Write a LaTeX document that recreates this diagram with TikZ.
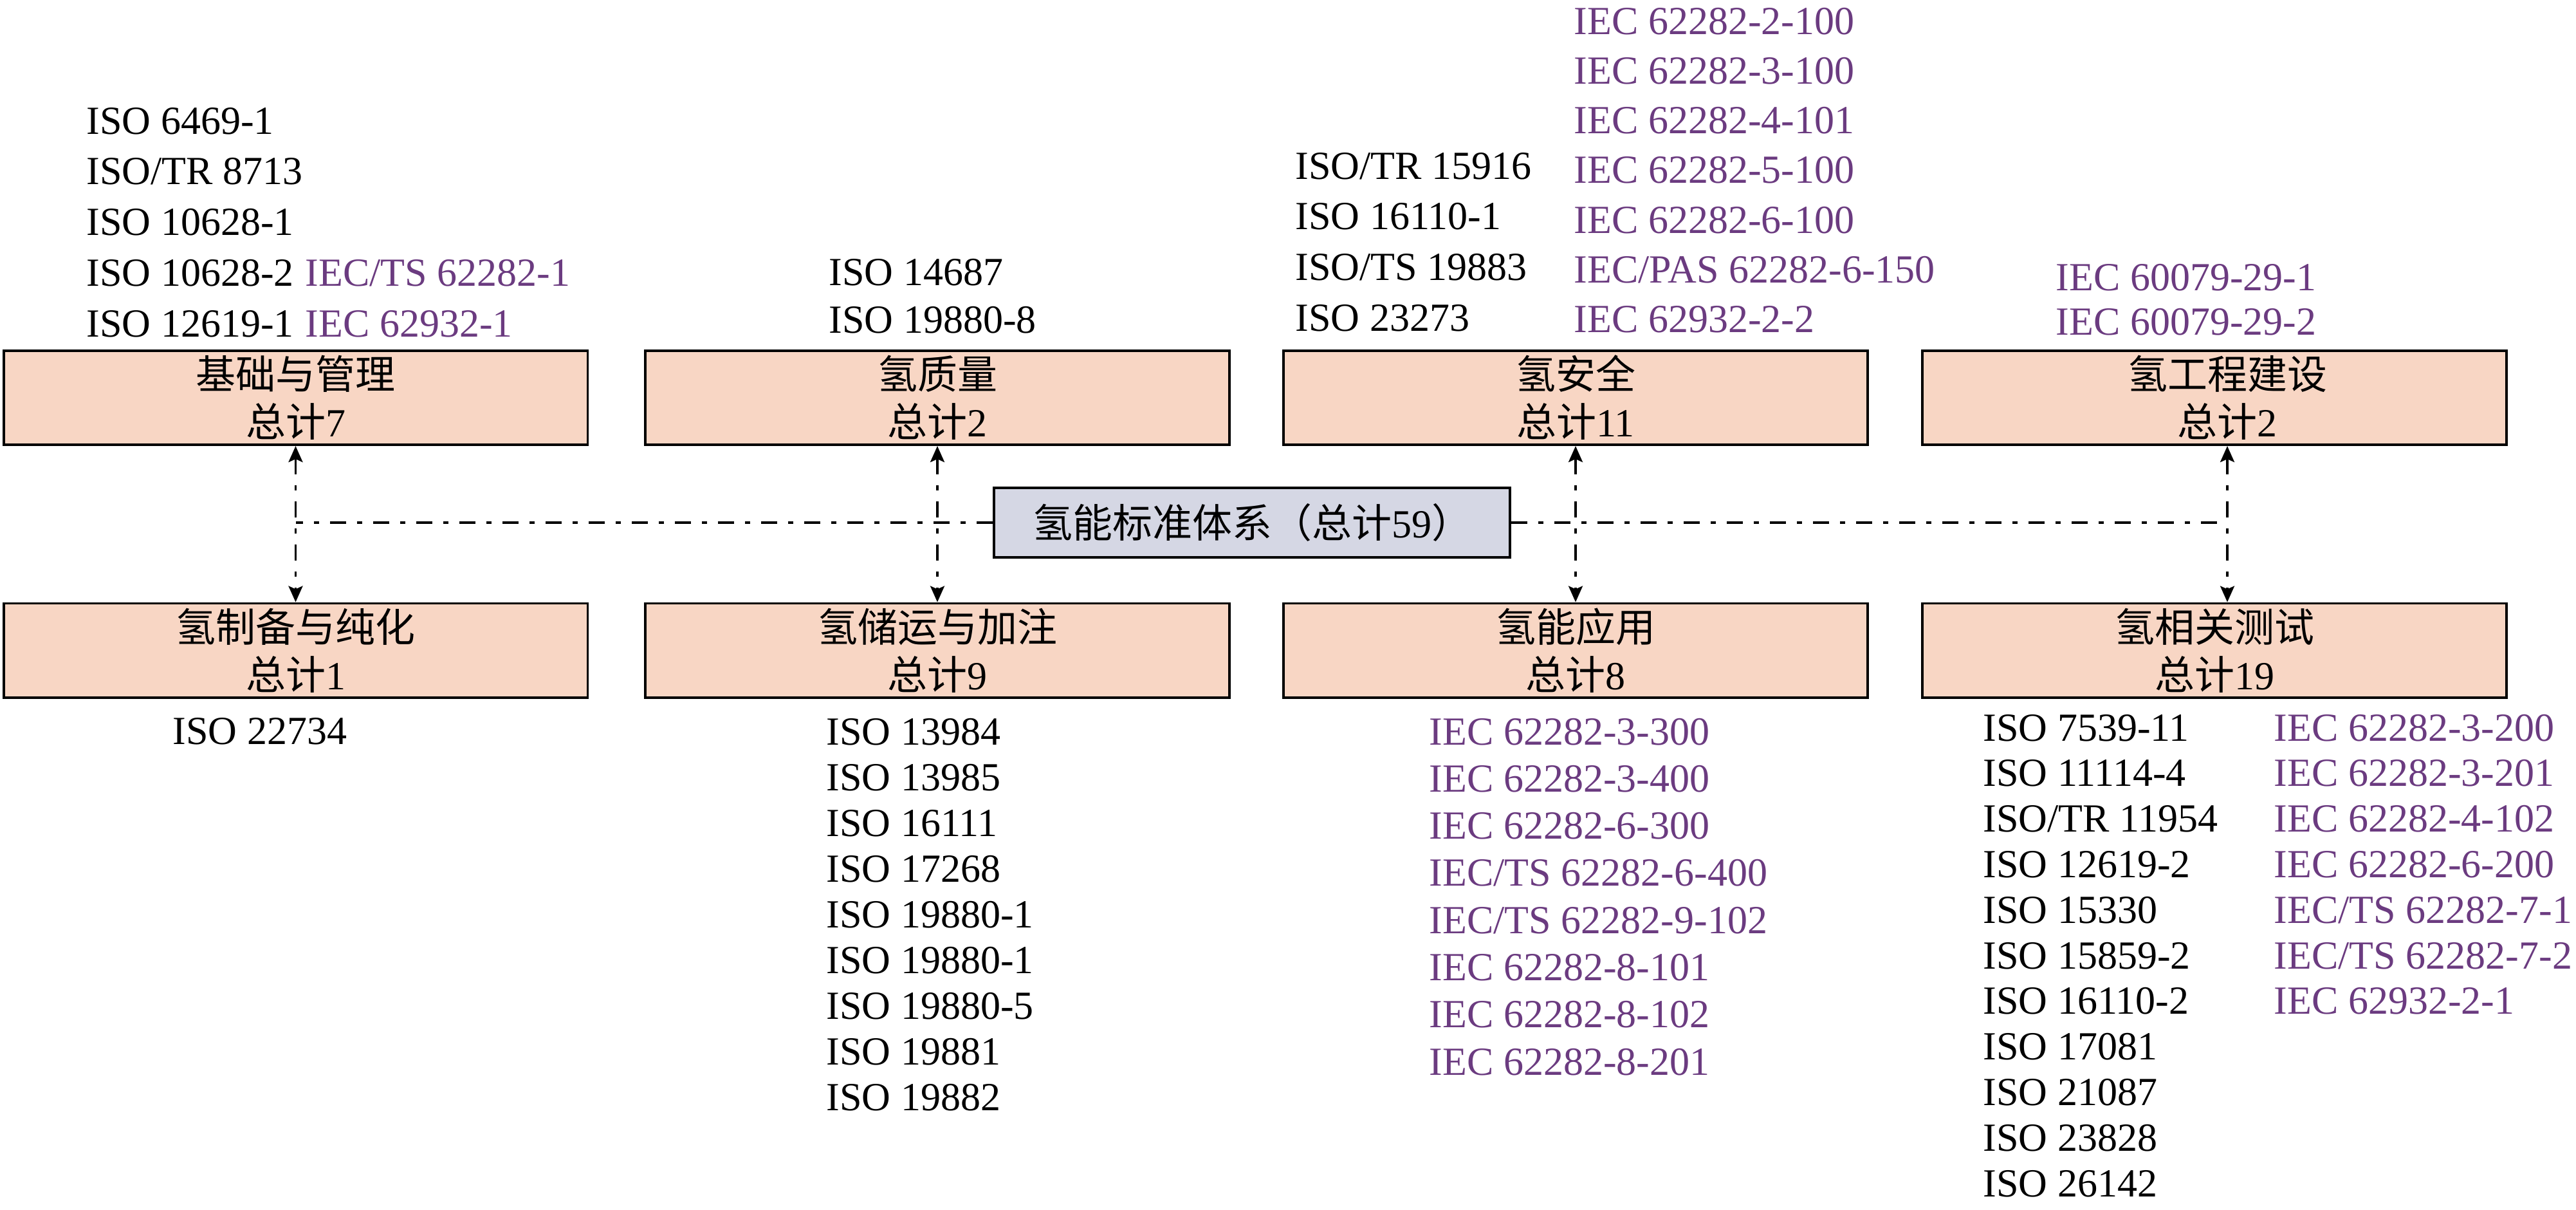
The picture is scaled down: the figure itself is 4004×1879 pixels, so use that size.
\documentclass[tikz,border=0pt]{standalone}
\usepackage{fontspec}
\setmainfont{Liberation Serif}
\newfontfamily\cjkf{Noto Sans CJK SC}
\newcommand\zh[1]{{\cjkf #1}}
\usetikzlibrary{arrows.meta}
\definecolor{boxfill}{RGB}{248,214,196}
\definecolor{hubfill}{RGB}{213,215,228}
\definecolor{iecpurple}{RGB}{107,59,128}
\begin{document}
\begin{tikzpicture}[x=0.25pt,y=-0.25pt,
  catbox/.style={draw=black, line width=0.9pt, fill=boxfill, minimum width=226.9pt,
    minimum height=36.6pt, inner sep=0pt, align=center,
    font=\fontsize{15.5pt}{18.5pt}\selectfont},
  hubbox/.style={draw=black, line width=0.9pt, fill=hubfill, minimum width=200.6pt,
    minimum height=27.1pt, inner sep=0pt, font=\fontsize{15.5pt}{18.5pt}\selectfont},
  item/.style={font=\fontsize{15.5pt}{18pt}\selectfont, anchor=base west, inner sep=0pt},
  iec/.style={item, text=iecpurple},
  dd/.style={line width=0.83pt, dash pattern=on 6.25pt off 4.25pt on 2pt off 4.25pt},
  link/.style={dd, {Stealth[length=6.25pt,width=5.5pt,inset=1.2pt]}-{Stealth[length=6.25pt,width=5.5pt,inset=1.2pt]}}
]
\useasboundingbox (0,0) rectangle (4004,1879);

% category boxes
\node[catbox] (b1) at (459.5,618) {\zh{基础与管理}\\\zh{总计}7};
\node[catbox] (b2) at (1457,618) {\zh{氢质量}\\\zh{总计}2};
\node[catbox] (b3) at (2449,618) {\zh{氢安全}\\\zh{总计}11};
\node[catbox] (b4) at (3442,618) {\hspace*{10pt}\zh{氢工程建设}\\\hspace*{10pt}\zh{总计}2};
\node[catbox] (c1) at (459.5,1010.5) {\zh{氢制备与纯化}\\\zh{总计}1};
\node[catbox] (c2) at (1457,1010.5) {\zh{氢储运与加注}\\\zh{总计}9};
\node[catbox] (c3) at (2449,1010.5) {\zh{氢能应用}\\\zh{总计}8};
\node[catbox] (c4) at (3442,1010.5) {\zh{氢相关测试}\\\zh{总计}19};

% connectors
\coordinate (v4t) at ([xshift=5pt]b4.south);
\coordinate (v4b) at ([xshift=5pt]c4.north);
\draw[link] (b1.south) -- (c1.north);
\draw[link] (b2.south) -- (c2.north);
\draw[link] (b3.south) -- (c3.north);
\draw[link] (v4t) -- (v4b);

\node[hubbox] (hub) at (1946,812) {\zh{氢能标准体系（总计}59\zh{）}};
\draw[dd] (hub.west) -- (hub.west -| b1.south);
\draw[dd] (hub.east) -- (hub.east -| v4t);

% top lists
\foreach \t [count=\i] in {ISO 6469-1, ISO/TR 8713, ISO 10628-1, ISO 10628-2, ISO 12619-1}
  \node[item] (ta\i) at (134,{208+78.75*(\i-1)}) {\t};
\node[iec] (tb1) at (474,444) {IEC/TS 62282-1};
\node[iec] (tb2) at (474,523) {IEC 62932-1};
\node[item] (tc1) at (1288,443) {ISO 14687};
\node[item] (tc2) at (1288,517) {ISO 19880-8};
\foreach \t [count=\i] in {ISO/TR 15916, ISO 16110-1, ISO/TS 19883, ISO 23273}
  \node[item] (td\i) at (2013,{278+78.7*(\i-1)}) {\t};
\foreach \t [count=\i] in {IEC 62282-2-100, IEC 62282-3-100, IEC 62282-4-101, IEC 62282-5-100, IEC 62282-6-100, IEC/PAS 62282-6-150, IEC 62932-2-2}
  \node[iec] (te\i) at (2446,{53+77.3*(\i-1)}) {\t};
\node[iec] (tf1) at (3195,451) {IEC 60079-29-1};
\node[iec] (tf2) at (3195,520) {IEC 60079-29-2};

% bottom lists
\node[item] (ba1) at (268,1156) {ISO 22734};
\foreach \t [count=\i] in {ISO 13984, ISO 13985, ISO 16111, ISO 17268, ISO 19880-1, ISO 19880-1, ISO 19880-5, ISO 19881, ISO 19882}
  \node[item] (bb\i) at (1284,{1157+71.1*(\i-1)}) {\t};
\foreach \t [count=\i] in {IEC 62282-3-300, IEC 62282-3-400, IEC 62282-6-300, IEC/TS 62282-6-400, IEC/TS 62282-9-102, IEC 62282-8-101, IEC 62282-8-102, IEC 62282-8-201}
  \node[iec] (bc\i) at (2221,{1157+73.3*(\i-1)}) {\t};
\foreach \t [count=\i] in {ISO 7539-11, ISO 11114-4, ISO/TR 11954, ISO 12619-2, ISO 15330, ISO 15859-2, ISO 16110-2, ISO 17081, ISO 21087, ISO 23828, ISO 26142}
  \node[item] (bd\i) at (3082,{1151+70.8*(\i-1)}) {\t};
\foreach \t [count=\i] in {IEC 62282-3-200, IEC 62282-3-201, IEC 62282-4-102, IEC 62282-6-200, IEC/TS 62282-7-1, IEC/TS 62282-7-2, IEC 62932-2-1}
  \node[iec] (be\i) at (3534,{1151+70.8*(\i-1)}) {\t};
\end{tikzpicture}
\end{document}
